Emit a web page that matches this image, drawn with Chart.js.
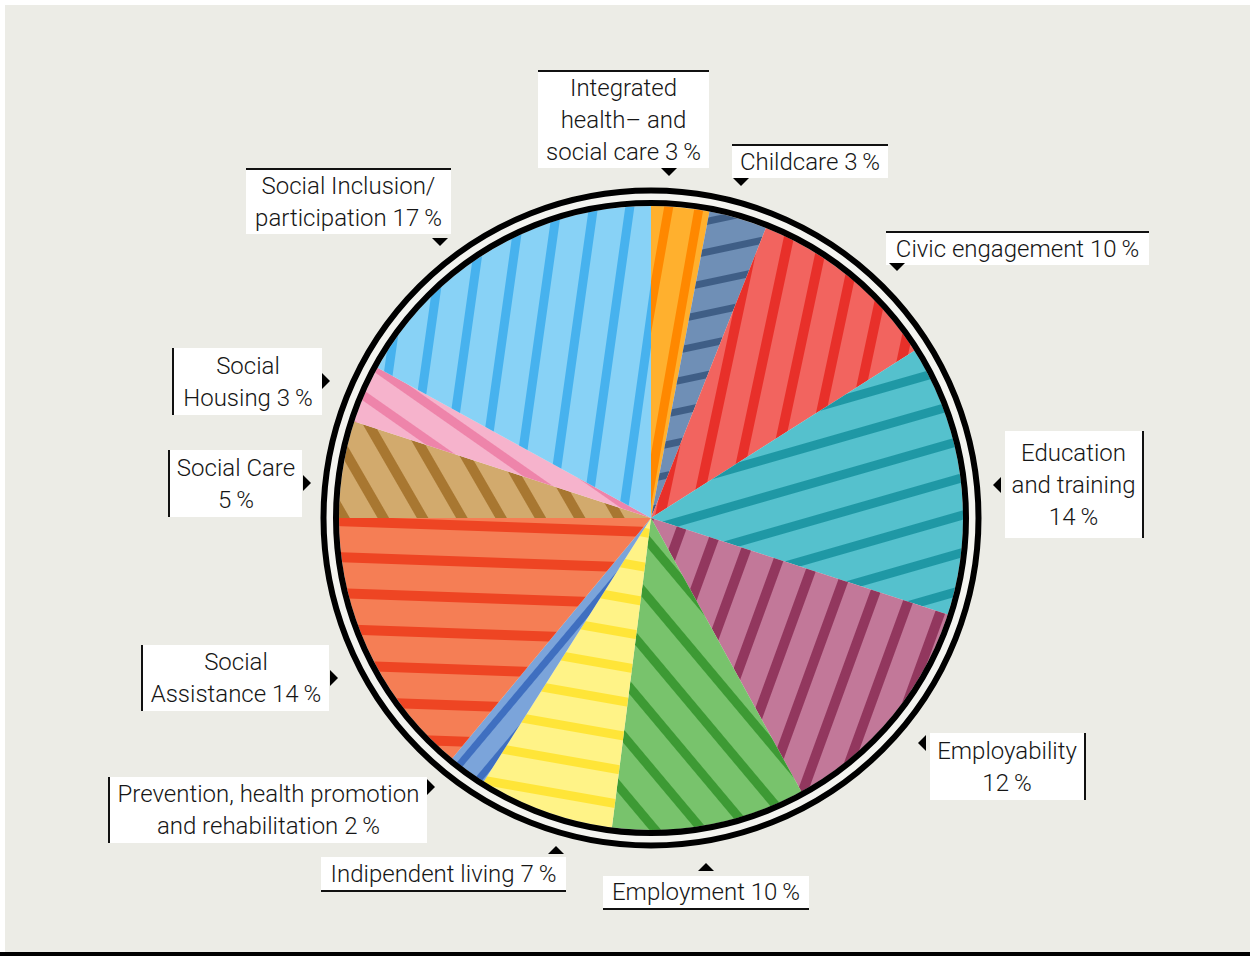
<!DOCTYPE html>
<html>
<head>
<meta charset="utf-8">
<script src="https://cdn.jsdelivr.net/npm/chart.js@4/dist/chart.umd.min.js"></script>
<style>
  html, body { margin: 0; padding: 0; background: #ffffff; }
  #wrap { position: relative; width: 1250px; height: 956px; overflow: hidden; background: #ffffff; }
  #panel { position: absolute; left: 5px; top: 5px; width: 1245px; height: 947px; background: #ECECE6; }
  #bar { position: absolute; left: 0; top: 952px; width: 1250px; height: 4px; background: #000; }
  #c { position: absolute; left: 0; top: 0; }
  .lbl { position: absolute; background: #fff; box-sizing: border-box; display: flex; align-items: center; justify-content: center;
         font-family: Roboto, "Open Sans", sans-serif; font-weight: 300; font-size: 24px; line-height: 32px; color: #161616;
         text-align: center; white-space: pre; }
  .tri { position: absolute; width: 0; height: 0; }
</style>
</head>
<body>
<div id="wrap">
  <div id="panel"></div>
  <div id="bar"></div>
  <canvas id="c" width="1250" height="956"></canvas>
</div>
<script>
// ---- data ----
const categories = [
  "Integrated\nhealth\u2013 and\nsocial care",
  "Childcare",
  "Civic engagement",
  "Education\nand training",
  "Employability",
  "Employment",
  "Indipendent living",
  "Prevention, health promotion\nand rehabilitation",
  "Social\nAssistance",
  "Social Care",
  "Social\nHousing",
  "Social Inclusion/\nparticipation"
];
const values = [3, 3, 10, 14, 12, 10, 7, 2, 14, 5, 3, 17];

// ---- styles ----
const baseColors   = ["#FFB02E", "#6F8FB6", "#F2645F", "#55C1CD", "#C27899", "#78C36C", "#FFF387", "#7BA4DA", "#F57E55", "#D2AA6D", "#F6B3CC", "#88D2F6"];
const stripeColors = ["#FF8800", "#3F5E86", "#E8302A", "#1F98A5", "#92375E", "#3D9A34", "#FFE538", "#3F6FC0", "#EE4523", "#A87731", "#EE84AA", "#47B2EE"];
const stripeAngles = [10, 78, 12, 74, 20, -40, 100, 40, 92, -30, -55, 8];
const stripePeriod = [30, 30, 34, 36, 34, 36, 34, 24, 36, 34, 30, 36];
const stripeWidth  = [9, 7, 10, 9, 10, 9, 9, 7, 10, 10, 9, 9];

// label layout: box [left, top, width, height], border side, pct on new line, triangle [x, y, direction]
const labelLayout = [
  { box: [538, 70, 171, 98],  side: "top",    pctBreak: false, tri: [669, 169, "down"] },
  { box: [732, 144, 156, 34], side: "top",    pctBreak: false, tri: [741, 179, "down"] },
  { box: [886, 231, 263, 34], side: "top",    pctBreak: false, tri: [897, 264, "down"] },
  { box: [1005, 431, 139, 107], side: "right", pctBreak: true, tri: [997, 485, "left"] },
  { box: [930, 733, 156, 67], side: "right",  pctBreak: true,  tri: [922, 743, "left"] },
  { box: [603, 876, 206, 34], side: "bottom", pctBreak: false, tri: [706, 870, "up"] },
  { box: [321, 857, 245, 35], side: "bottom", pctBreak: false, tri: [556, 853, "up"] },
  { box: [108, 777, 319, 66], side: "left",   pctBreak: false, tri: [431, 787, "right"] },
  { box: [141, 645, 188, 66], side: "left",   pctBreak: false, tri: [334, 678, "right"] },
  { box: [168, 450, 134, 67], side: "left",   pctBreak: true,  tri: [307, 483, "right"] },
  { box: [172, 348, 150, 67], side: "left",   pctBreak: false, tri: [326, 381, "right"] },
  { box: [246, 168, 205, 66], side: "top",    pctBreak: false, tri: [440, 239, "down"] }
];

function makePattern(ctx, i) {
  const P = stripePeriod[i], w = stripeWidth[i];
  const t = document.createElement("canvas");
  t.width = P; t.height = 4;
  const g = t.getContext("2d");
  g.fillStyle = baseColors[i]; g.fillRect(0, 0, P, 4);
  g.fillStyle = stripeColors[i]; g.fillRect(0, 0, w, 4);
  const pat = ctx.createPattern(t, "repeat");
  pat.setTransform(new DOMMatrix().rotateSelf(stripeAngles[i]));
  return pat;
}

const ctx = document.getElementById("c").getContext("2d");
const patterns = values.map((v, i) => makePattern(ctx, i));

const ringPlugin = {
  id: "rings",
  afterDatasetsDraw(chart) {
    const arc = chart.getDatasetMeta(0).data[0];
    if (!arc) return;
    const { x, y, outerRadius: r } = arc.getProps(["x", "y", "outerRadius"], true);
    const c = chart.ctx;
    c.save();
    c.beginPath(); c.arc(x, y, r + 9, 0, Math.PI * 2);
    c.lineWidth = 8; c.strokeStyle = "#F4F4F0"; c.stroke();
    c.beginPath(); c.arc(x, y, r + 3, 0, Math.PI * 2);
    c.lineWidth = 6; c.strokeStyle = "#000"; c.stroke();
    c.beginPath(); c.arc(x, y, r + 15.5, 0, Math.PI * 2);
    c.lineWidth = 6; c.strokeStyle = "#000"; c.stroke();
    c.restore();
  }
};

new Chart(ctx, {
  type: "pie",
  data: {
    labels: categories.map(s => s.replace(/\n/g, " ")),
    datasets: [{
      data: values,
      backgroundColor: patterns,
      borderWidth: 0,
      hoverOffset: 0
    }]
  },
  options: {
    responsive: false,
    animation: false,
    events: [],
    layout: { padding: { left: 339, right: 287, top: 206, bottom: 126 } },
    plugins: { legend: { display: false }, tooltip: { enabled: false } }
  },
  plugins: [ringPlugin]
});

// ---- labels ----
const wrap = document.getElementById("wrap");
labelLayout.forEach((L, i) => {
  const d = document.createElement("div");
  d.className = "lbl";
  const [l, t, w, h] = L.box;
  d.style.left = l + "px"; d.style.top = t + "px"; d.style.width = w + "px"; d.style.height = h + "px";
  d.style["border-" + L.side] = "2px solid #111";
  d.textContent = categories[i] + (L.pctBreak ? "\n" : " ") + values[i] + "\u2009%";
  wrap.appendChild(d);
  const tr = document.createElement("div");
  tr.className = "tri";
  const [tx, ty, dir] = L.tri;
  const s = 8;
  if (dir === "down") {
    tr.style.borderLeft = s + "px solid transparent"; tr.style.borderRight = s + "px solid transparent";
    tr.style.borderTop = s + "px solid #000"; tr.style.left = (tx - s) + "px"; tr.style.top = (ty - 1) + "px";
  } else if (dir === "up") {
    tr.style.borderLeft = s + "px solid transparent"; tr.style.borderRight = s + "px solid transparent";
    tr.style.borderBottom = s + "px solid #000"; tr.style.left = (tx - s) + "px"; tr.style.top = (ty - s + 1) + "px";
  } else if (dir === "left") {
    tr.style.borderTop = s + "px solid transparent"; tr.style.borderBottom = s + "px solid transparent";
    tr.style.borderRight = s + "px solid #000"; tr.style.left = (tx - s / 2) + "px"; tr.style.top = (ty - s) + "px";
  } else {
    tr.style.borderTop = s + "px solid transparent"; tr.style.borderBottom = s + "px solid transparent";
    tr.style.borderLeft = s + "px solid #000"; tr.style.left = (tx - s / 2) + "px"; tr.style.top = (ty - s) + "px";
  }
  wrap.appendChild(tr);
});
</script>
</body>
</html>
